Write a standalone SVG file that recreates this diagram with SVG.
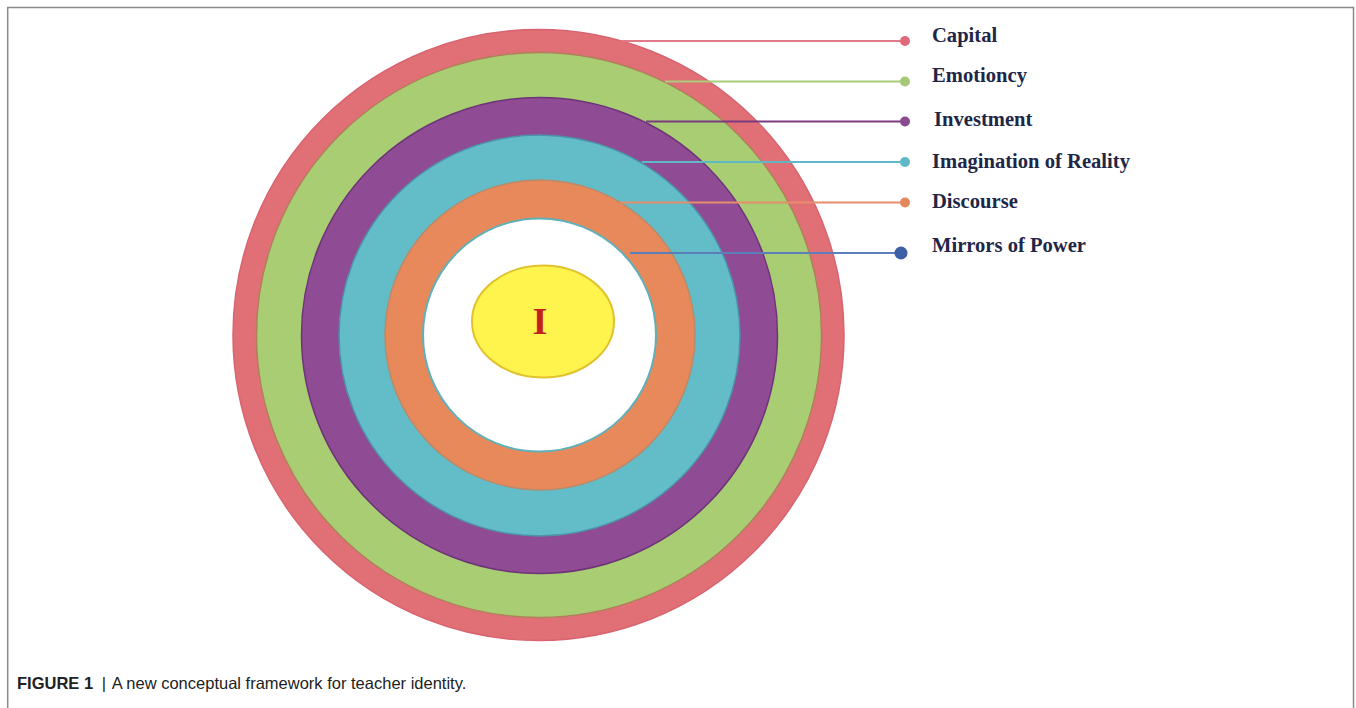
<svg xmlns="http://www.w3.org/2000/svg" width="1356" height="708" viewBox="0 0 1356 708">
  <style>
    .lbl { font-family: "Liberation Serif", "Times New Roman", serif; font-weight: bold; font-size: 20.6px; fill: #1e2748; }
    .cap { font-family: "Liberation Sans", Arial, sans-serif; font-size: 16.5px; fill: #222; }
    .ln { stroke-width: 2.2; fill: none; }
    .frame { stroke: #8a8a8a; stroke-width: 1.5; fill: none; }
  </style>
  <rect width="1356" height="708" fill="#ffffff"/>
  <path class="frame" d="M7.7,708 V7.5 H1353.5 V708"/>

  <g id="ring-capital"><circle cx="538.5" cy="335" r="305.5" fill="#e06f76" stroke="#d86470" stroke-width="1.5"/></g>
  <g id="ring-emotioncy"><circle cx="539" cy="335" r="282.5" fill="#a9cd73" stroke="#b0805a" stroke-width="1.5"/></g>
  <g id="ring-investment"><circle cx="539.5" cy="335.5" r="238" fill="#8f4b93" stroke="#6e3478" stroke-width="1.5"/></g>
  <g id="ring-imagination"><circle cx="539.5" cy="335.5" r="200.5" fill="#62bdc8" stroke="#4f8fa8" stroke-width="1.5"/></g>
  <g id="ring-discourse"><circle cx="540" cy="335" r="155" fill="#e8895b" stroke="#b88a6a" stroke-width="1.5"/></g>
  <g id="ring-mirrors"><circle cx="539.5" cy="335" r="116.5" fill="#ffffff" stroke="#5fb0b8" stroke-width="2"/></g>
  <g id="core-I">
    <ellipse cx="543" cy="321.5" rx="71" ry="56" fill="#fff44e" stroke="#e2c22c" stroke-width="2"/>
    <text x="540" y="334" text-anchor="middle" font-family="Liberation Serif, Times New Roman, serif" font-weight="bold" font-size="38" fill="#c4211d">I</text>
  </g>

  <g id="connectors">
    <line class="ln" x1="622" y1="41" x2="905" y2="41" stroke="#e07a86"/>
    <circle cx="905" cy="41" r="5" fill="#df6b7a"/>
    <line class="ln" x1="665" y1="81.5" x2="905" y2="81.5" stroke="#a9cc7a"/>
    <circle cx="905" cy="81.5" r="5" fill="#a5c877"/>
    <line class="ln" x1="646" y1="121.5" x2="905" y2="121.5" stroke="#7a3b80"/>
    <circle cx="905" cy="121.5" r="5" fill="#8a4a90"/>
    <line class="ln" x1="642" y1="162" x2="905" y2="162" stroke="#5fb8c6"/>
    <circle cx="905" cy="162" r="5" fill="#5fb8c6"/>
    <line class="ln" x1="620" y1="202.5" x2="905" y2="202.5" stroke="#e58e6c"/>
    <circle cx="905" cy="202.5" r="5" fill="#e5875e"/>
    <line class="ln" x1="630" y1="253" x2="901" y2="253" stroke="#5a7fbb"/>
    <circle cx="901" cy="253" r="6.5" fill="#3f5fa6"/>
  </g>

  <g id="label-capital"><text class="lbl" x="932" y="42">Capital</text></g>
  <g id="label-emotioncy"><text class="lbl" x="932" y="81.5">Emotioncy</text></g>
  <g id="label-investment"><text class="lbl" x="934" y="126">Investment</text></g>
  <g id="label-imagination"><text class="lbl" x="932" y="168">Imagination of Reality</text></g>
  <g id="label-discourse"><text class="lbl" x="932" y="208">Discourse</text></g>
  <g id="label-mirrors"><text class="lbl" x="932" y="251.5">Mirrors of Power</text></g>

  <g id="caption">
    <text class="cap" x="17" y="689"><tspan font-weight="bold">FIGURE 1</tspan><tspan dx="4"> | </tspan><tspan dx="2">A new conceptual framework for teacher identity.</tspan></text>
  </g>
</svg>
